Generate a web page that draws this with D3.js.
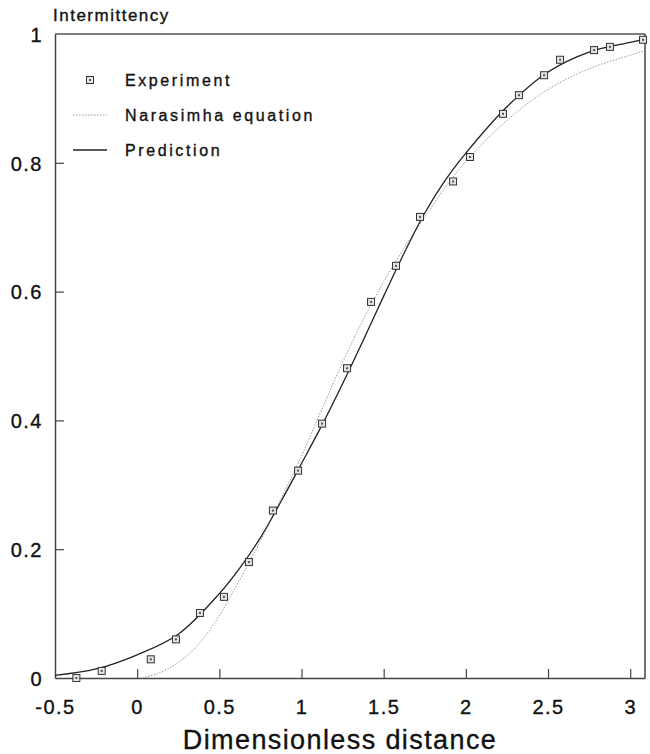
<!DOCTYPE html>
<html>
<head>
<meta charset="utf-8">
<script src="https://cdn.jsdelivr.net/npm/d3@7"></script>
<style>
  body { margin: 0; background: #fff; }
  text { font-family: "Liberation Sans", Arial, sans-serif; fill: #111; stroke: #111; stroke-width: 0.35px; }
</style>
</head>
<body>
<svg width="650" height="754"></svg>
<script>
// experiment points
var expX = [-0.37, -0.216, 0.083, 0.236, 0.382, 0.528, 0.68, 0.826, 0.979, 1.125, 1.277, 1.423, 1.575, 1.721, 1.922, 2.025, 2.226, 2.323, 2.476, 2.573, 2.78, 2.877, 3.078];
var expY = [0.0, 0.011, 0.029, 0.06, 0.101, 0.126, 0.18, 0.26, 0.322, 0.395, 0.481, 0.584, 0.64, 0.716, 0.771, 0.809, 0.876, 0.905, 0.936, 0.96, 0.975, 0.98, 0.991];

// Narasimha equation curve (dotted)
var narX = [0.03, 0.125, 0.25, 0.375, 0.5, 0.625, 0.75, 0.875, 1.0, 1.125, 1.25, 1.375, 1.5, 1.625, 1.75, 1.875, 2.0, 2.25, 2.5, 2.75, 3.0, 3.09];
var narY = [0.0, 0.007, 0.024, 0.053, 0.097, 0.153, 0.213, 0.278, 0.345, 0.418, 0.49, 0.556, 0.615, 0.668, 0.716, 0.762, 0.802, 0.866, 0.914, 0.946, 0.967, 0.974];

// prediction curve (solid)
var preX = [-0.5, -0.25, 0, 0.25, 0.5, 0.625, 0.75, 0.875, 1.0, 1.125, 1.25, 1.375, 1.5, 1.625, 1.75, 1.875, 2.0, 2.25, 2.5, 2.75, 3.0, 3.09];
var preY = [0.004, 0.014, 0.036, 0.068, 0.131, 0.171, 0.218, 0.274, 0.333, 0.393, 0.457, 0.524, 0.593, 0.66, 0.722, 0.773, 0.815, 0.887, 0.941, 0.972, 0.987, 0.992];

var xTicks = [-0.5, 0, 0.5, 1, 1.5, 2, 2.5, 3];
var yTicks = [0, 0.2, 0.4, 0.6, 0.8, 1];

var legendNames = ["Experiment", "Narasimha equation", "Prediction"];

var svg = d3.select("svg");
var width = +svg.attr("width");
var height = +svg.attr("height");
var margin = {top: 34, right: 5, bottom: 76, left: 55};

var x = d3.scaleLinear().domain([-0.5, 3.09]).range([margin.left, width - margin.right]);
var y = d3.scaleLinear().domain([0, 1]).range([height - margin.bottom, margin.top]);

var fmt = function(d) { return d3.format("")(d).replace("\u2212", "-"); };

// axes, ticks pointing inward
var xAxis = svg.append("g")
  .attr("transform", "translate(0," + (height - margin.bottom) + ")")
  .call(d3.axisBottom(x).tickValues(xTicks).tickSizeInner(-9).tickSizeOuter(0).tickPadding(22).tickFormat(fmt));
var yAxis = svg.append("g")
  .attr("transform", "translate(" + margin.left + ",0)")
  .call(d3.axisLeft(y).tickValues(yTicks).tickSizeInner(-9).tickSizeOuter(0).tickPadding(12).tickFormat(fmt));

[xAxis, yAxis].forEach(function(a) {
  a.select(".domain").attr("stroke", "#444").attr("stroke-width", 1.5);
  a.selectAll(".tick line").attr("stroke", "#444").attr("stroke-width", 1.2);
  a.selectAll(".tick text").style("font-size", "20px").attr("fill", "#111")
    .style("letter-spacing", "1.5px");
});
// hide inner tick marks that sit on the frame
xAxis.selectAll(".tick").filter(function(d) { return d == -0.5; }).select("line").remove();
yAxis.selectAll(".tick").filter(function(d) { return d == 0 || d == 1; }).select("line").remove();
yAxis.selectAll(".tick text").attr("dy", "0.36em");

// top and right frame
svg.append("line")
  .attr("x1", x(-0.5)).attr("x2", x(3.09)).attr("y1", y(1)).attr("y2", y(1))
  .attr("stroke", "#555").attr("stroke-width", 1.5);
svg.append("line")
  .attr("x1", x(3.09)).attr("x2", x(3.09)).attr("y1", y(1)).attr("y2", y(0))
  .attr("stroke", "#444").attr("stroke-width", 1.5);

var line = d3.line()
  .x(function(d) { return x(d[0]); })
  .y(function(d) { return y(d[1]); })
  .curve(d3.curveCatmullRom.alpha(0.5));

svg.append("path")
  .datum(d3.zip(narX, narY))
  .attr("d", line)
  .attr("fill", "none")
  .attr("stroke", "#999")
  .attr("stroke-width", 1)
  .attr("stroke-dasharray", "1.5,1.5");

svg.append("path")
  .datum(d3.zip(preX, preY))
  .attr("d", line)
  .attr("fill", "none")
  .attr("stroke", "#222")
  .attr("stroke-width", 1.3);

// experiment markers: small box with a dot
function drawMarker(g, cx, cy) {
  g.append("rect")
    .attr("x", cx - 3.5).attr("y", cy - 3.5)
    .attr("width", 7).attr("height", 7)
    .attr("fill", "#e4e4e4").attr("stroke", "#333").attr("stroke-width", 1);
  g.append("rect")
    .attr("x", cx - 1).attr("y", cy - 1)
    .attr("width", 2).attr("height", 2)
    .attr("fill", "#555");
}

var pts = svg.append("g").attr("class", "points");
d3.zip(expX, expY).forEach(function(d) {
  drawMarker(pts, x(d[0]), y(d[1]));
});

// legend
var legend = svg.append("g").attr("class", "legend");
var legY = [80, 115, 150];
legendNames.forEach(function(name, i) {
  if (i == 0) {
    drawMarker(legend, 90, legY[i]);
  } else {
    legend.append("line")
      .attr("x1", 73).attr("x2", 107).attr("y1", legY[i]).attr("y2", legY[i])
      .attr("stroke", i == 1 ? "#999" : "#222")
      .attr("stroke-width", i == 1 ? 1 : 1.3)
      .attr("stroke-dasharray", i == 1 ? "1.5,1.5" : null);
  }
  legend.append("text")
    .attr("x", 125).attr("y", legY[i]).attr("dy", "0.35em")
    .style("font-size", "16px").style("letter-spacing", "2.6px")
    .text(name);
});

// titles
svg.append("text")
  .attr("x", 53).attr("y", 21)
  .style("font-size", "17px").style("letter-spacing", "1.5px")
  .text("Intermittency");

svg.append("text")
  .attr("x", 340).attr("y", 749)
  .attr("text-anchor", "middle")
  .style("font-size", "27px").style("letter-spacing", "1.4px")
  .text("Dimensionless distance");
</script>
</body>
</html>
